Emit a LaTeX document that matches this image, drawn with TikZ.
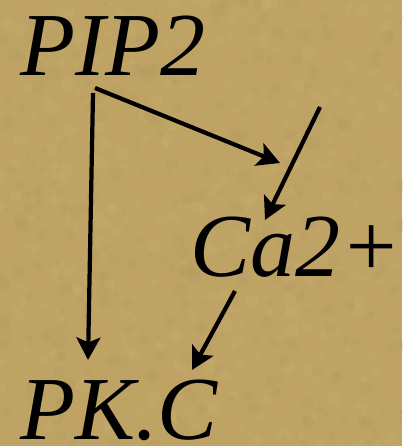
\documentclass[tikz,border=0pt]{standalone}
\usepackage{fontspec}
\setmainfont{Liberation Serif}
\usepackage{tikz}
\usetikzlibrary{arrows.meta, positioning, calc}
\definecolor{parchment}{RGB}{190,163,101}
\definecolor{parchlight}{RGB}{203,178,114}
\definecolor{parchdark}{RGB}{176,150,91}

\begin{document}
\begin{tikzpicture}[
  species/.style={anchor=base west, inner sep=0pt, font=\fontsize{64}{64}\selectfont\itshape},
  signal/.style={line width=3pt, draw=black, -{Stealth[length=16pt, width=17pt, inset=3.5pt]}}
]
  % background
  \fill[parchment] (0,0) rectangle (10.05,11.15);
  \useasboundingbox (0,0) rectangle (10.05,11.15);
  \pgfmathsetseed{7}
  \foreach \k in {1,...,700} {
    \pgfmathsetmacro{\px}{rnd*10.05}
    \pgfmathsetmacro{\py}{rnd*11.15}
    \pgfmathsetmacro{\pr}{0.04+rnd*0.14}
    \ifodd\k
      \fill[parchlight, opacity=0.22] (\px,\py) circle (\pr);
    \else
      \fill[parchdark, opacity=0.2] (\px,\py) circle (\pr);
    \fi
  }

  \node[species] (pip) at (0.5,9.25) {PIP2};
  \node[species] (ca) at (4.75,4.225) {Ca2+};
  \node[species] (pkc) at (0.5,0.15) {PK.C};
  \coordinate (influx) at (8.0,8.475);

  \draw[signal] ($(pip.base west)+(1.825,-0.425)$) -- ($(pkc.base west)+(1.7,2.0)$);
  \draw[signal] ($(pip.base west)+(1.875,-0.3)$) -- ($(ca.base west)+(2.25,2.85)$);
  \draw[signal] (influx) -- ($(ca.base west)+(1.875,1.425)$);
  \draw[signal] ($(ca.base west)+(1.125,-0.35)$) -- ($(pkc.base west)+(4.3,1.75)$);
\end{tikzpicture}
\end{document}
